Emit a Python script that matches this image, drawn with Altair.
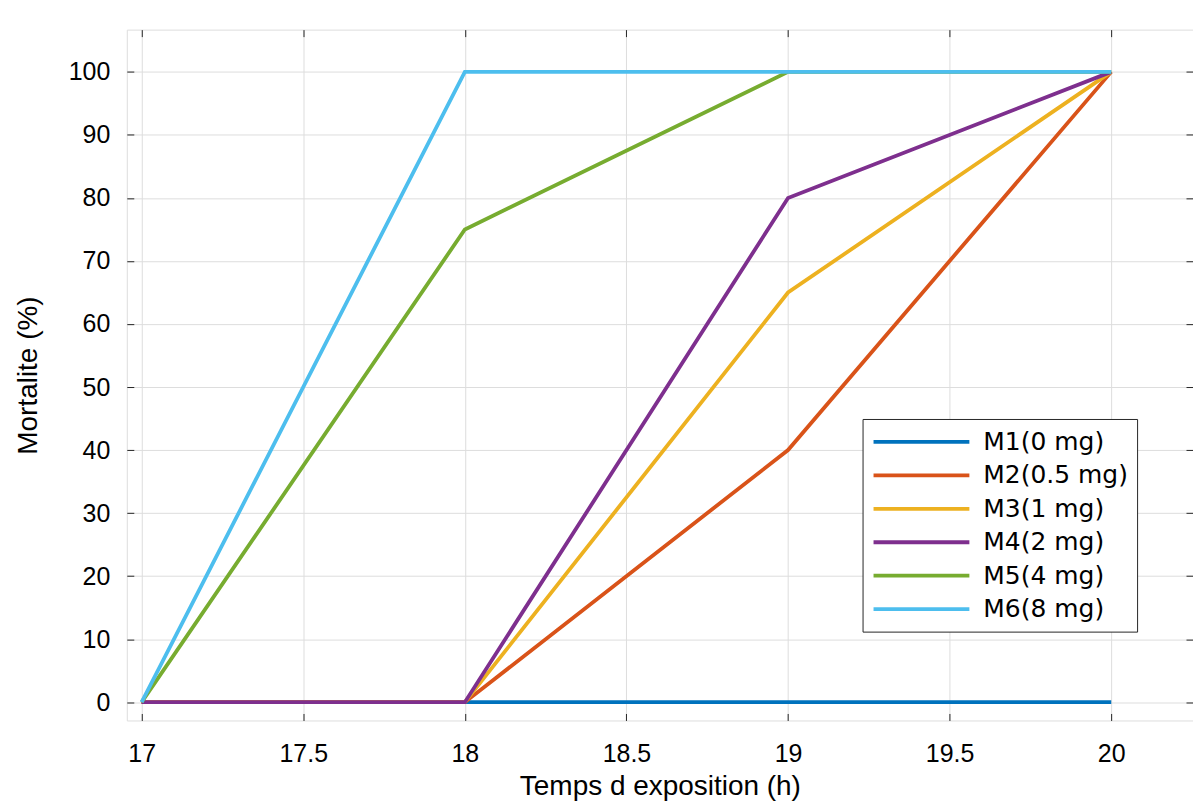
import altair as alt
import pandas as pd

hours = [17, 18, 19, 20]
series_names = ["M1(0 mg)", "M2(0.5 mg)", "M3(1 mg)", "M4(2 mg)", "M5(4 mg)", "M6(8 mg)"]
m1 = [0, 0, 0, 0]
m2 = [0, 0, 40, 100]
m3 = [0, 0, 65, 100]
m4 = [0, 0, 80, 100]
m5 = [0, 75, 100, 100]
m6 = [0, 100, 100, 100]
colors = ["#0072BD", "#D95319", "#EDB120", "#7E2F8E", "#77AC30", "#4DBEEE"]
x_ticks = [17, 17.5, 18, 18.5, 19, 19.5, 20]
y_ticks = [0, 10, 20, 30, 40, 50, 60, 70, 80, 90, 100]

rows = []
for i, (name, vals) in enumerate(zip(series_names, [m1, m2, m3, m4, m5, m6])):
    for h, v in zip(hours, vals):
        rows.append({"h": h, "m": v, "serie": name, "k": i})
df = pd.DataFrame(rows)

FONT = "DejaVu Sans"
TXT = "#262626"

xscale = alt.Scale(domain=[16.954, 20.253], nice=False, zero=False)
yscale = alt.Scale(domain=[-2.9, 106.7], nice=False, zero=False)

base = alt.Chart(df).mark_line(strokeWidth=3.8, clip=True).encode(
    x=alt.X("h:Q", scale=xscale,
            axis=alt.Axis(values=x_ticks, title="Temps d exposition (h)",
                          labelExpr="'' + datum.value", grid=True, domain=False,
                          offset=-7, tickSize=7, tickColor=TXT, labelPadding=21,
                          labelFontSize=25, titleFontSize=28, titlePadding=6,
                          titleFontWeight="normal")),
    y=alt.Y("m:Q", scale=yscale,
            axis=alt.Axis(values=y_ticks, title="Mortalite (%)", grid=True, domain=False,
                          offset=-7, tickSize=7, tickColor=TXT, labelPadding=17,
                          labelFontSize=25, titleFontSize=28, titlePadding=26,
                          titleFontWeight="normal")),
    color=alt.Color("serie:N", scale=alt.Scale(domain=series_names, range=colors),
                    legend=alt.Legend(title=None, orient="none", legendX=737, legendY=390,
                                      symbolType="M -1 0 H 7", symbolStrokeWidth=3.8,
                                      symbolSize=576, labelFontSize=25, labelFont=FONT,
                                      labelColor="#000000", labelOffset=84,
                                      strokeColor="#262626", fillColor="#ffffff",
                                      padding=9, rowPadding=6.5)),
    order=alt.Order("k:Q"),
)

frame = alt.Chart(df).mark_point(opacity=0).encode(
    x=alt.X("h:Q", scale=xscale,
            axis=alt.Axis(orient="top", values=x_ticks, labels=False, title=None, grid=False,
                          domain=False, offset=-7, tickSize=7, tickColor=TXT)),
    y=alt.Y("m:Q", scale=yscale,
            axis=alt.Axis(orient="right", values=y_ticks, labels=False, title=None, grid=False,
                          domain=False, offset=-7, tickSize=7, tickColor=TXT)),
)

chart = alt.layer(base, frame).resolve_axis(x="independent", y="independent").properties(
    width=1068, height=692,
    autosize=alt.AutoSizeParams(type="none"),
    padding={"left": 119, "top": 21, "right": 0, "bottom": 83},
).configure_view(stroke="#262626", strokeWidth=1.2).configure_axis(
    labelFont=FONT, titleFont=FONT, labelColor=TXT, titleColor=TXT,
    gridColor="#e3e3e3", gridWidth=1, tickWidth=1.2,
).configure(background="white")

chart.save("out.html", embed_options={"renderer": "svg", "actions": False})
